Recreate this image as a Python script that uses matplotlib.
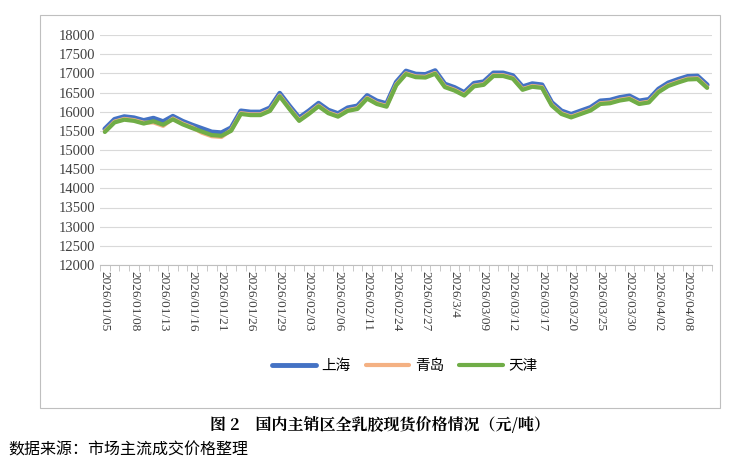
import matplotlib
matplotlib.use("Agg")
import matplotlib.pyplot as plt
from matplotlib.patches import Rectangle

plt.rcParams['font.family'] = ['Noto Sans CJK SC', 'DejaVu Sans']

labels = ["2026/01/05","2026/01/08","2026/01/13","2026/01/16","2026/01/21","2026/01/26",
          "2026/01/29","2026/02/03","2026/02/06","2026/02/11","2026/02/24","2026/02/27",
          "2026/3/4","2026/03/09","2026/03/12","2026/03/17","2026/03/20","2026/03/25",
          "2026/03/30","2026/04/02","2026/04/08"]
shanghai = [15550,15800,15870,15840,15770,15830,15740,15880,15750,15650,15560,15470,15450,15580,
            16020,15990,15990,16100,16480,16150,15840,16020,16220,16040,15950,16100,16150,16420,
            16280,16210,16770,17060,16980,16970,17070,16720,16630,16500,16740,16780,17010,17010,
            16940,16650,16730,16700,16240,16020,15930,16020,16110,16280,16300,16370,16410,16280,
            16320,16590,16750,16840,16920,16930,16700]
qingdao_off = [60]*len(shanghai)
for i in (5,6,10,11,12):
    qingdao_off[i] = 110
qingdao = [v - o for v, o in zip(shanghai, qingdao_off)]
tianjin = [v - 80 for v in shanghai]

fig = plt.figure(figsize=(7.56, 4.68), dpi=100)
fig.patches.append(Rectangle((40/756, 1-408/468), 680/756, 393/468, transform=fig.transFigure,
                             fill=False, edgecolor='#bfbfbf', linewidth=0.8))
ax = fig.add_axes([100/756, 1-265/468, 612/756, 230/468])
x = list(range(len(shanghai)))
ax.plot(x, shanghai, color='#4472c4', lw=3.5, label='上海', solid_capstyle='round')
ax.plot(x, qingdao, color='#f4b183', lw=3.0, label='青岛', solid_capstyle='round')
ax.plot(x, tianjin, color='#70ad47', lw=3.0, label='天津', solid_capstyle='round')
ax.set_ylim(12000, 18000)
ax.set_yticks(range(12000, 18001, 500))
ax.set_xlim(-0.3, len(shanghai) - 0.7)
ax.set_xticks([i * 3 for i in range(len(labels))])
ax.set_xticklabels(labels, rotation=270, fontsize=9.5, color='#404040', family=['Liberation Serif'])
ax.set_xticks([i - 0.5 for i in range(len(shanghai) + 1)], minor=True)
ax.tick_params(axis='x', which='major', length=0, pad=4)
ax.tick_params(axis='x', which='minor', length=4, color='#bfbfbf')
ax.tick_params(axis='y', length=0, labelsize=10.5, labelcolor='#404040')
for t in ax.get_yticklabels():
    t.set_family(['Liberation Serif'])
ax.grid(axis='y', color='#d9d9d9', lw=0.8)
for s in ['top', 'right', 'left']:
    ax.spines[s].set_visible(False)
ax.spines['bottom'].set_color('#bfbfbf')
ax.legend(loc='center', bbox_to_anchor=(405/756, 1-366/468), bbox_transform=fig.transFigure,
          ncol=3, frameon=False, fontsize=10.5, handlelength=3, columnspacing=1.0, handletextpad=0.4)
fig.text(380/756, 1-425/468, '图 2    国内主销区全乳胶现货价格情况（元/吨）', ha='center', va='center',
         fontsize=11.5, fontweight='bold', family=['Noto Serif CJK SC', 'Noto Sans CJK SC'])
fig.text(8/756, 1-450/468, '数据来源：市场主流成交价格整理', ha='left', va='center', fontsize=11.5)
fig.savefig('out.png', dpi=100)
